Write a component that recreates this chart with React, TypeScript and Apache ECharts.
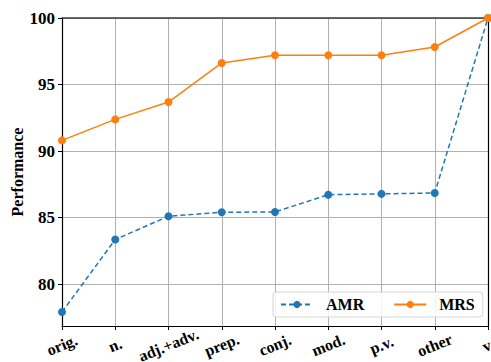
import React, { useEffect, useRef } from "react";
import * as echarts from "echarts";

const categories = ["orig.", "n.", "adj.+adv.", "prep.", "conj.", "mod.", "p.v.", "other", "v."];
const amrValues = [77.9, 83.35, 85.1, 85.4, 85.42, 86.72, 86.78, 86.85, 100];
const mrsValues = [90.8, 92.38, 93.68, 96.62, 97.2, 97.2, 97.2, 97.82, 100];
const yTicks = [80, 85, 90, 95, 100];

const FONT = "'Liberation Serif', 'Times New Roman', serif";

export default function App() {
  const ref = useRef<HTMLDivElement>(null);
  useEffect(() => {
    if (!ref.current) return;
    const chart = echarts.init(ref.current, null, { renderer: "svg" });
    chart.setOption({
      animation: false,
      backgroundColor: "#ffffff",
      textStyle: { fontFamily: FONT },
      grid: {
        left: 62,
        top: 18,
        right: 3,
        bottom: 36,
        containLabel: false,
        outerBoundsMode: "none",
      },
      legend: {
        left: 273,
        top: 292,
        orient: "horizontal",
        itemWidth: 32,
        itemHeight: 9,
        itemGap: 29,
        padding: [4, 8, 4, 7],
        borderColor: "#d6d6d6",
        borderWidth: 1,
        borderRadius: 3,
        backgroundColor: "rgba(255,255,255,0.85)",
        textStyle: {
          fontFamily: FONT,
          fontWeight: "bold",
          fontSize: 16,
          lineHeight: 17,
          color: "#000",
          padding: [0, 0, 0, 8],
        },
        data: ["AMR", "MRS"],
      },
      xAxis: [
        {
          type: "category",
          data: categories,
          boundaryGap: false,
          axisLine: { show: true, lineStyle: { color: "#000", width: 1.2 } },
          axisTick: { show: true, alignWithLabel: true, length: 4, lineStyle: { color: "#000" } },
          axisLabel: {
            rotate: 22,
            interval: 0,
            align: "center",
            margin: 19,
            fontFamily: FONT,
            fontWeight: "bold",
            fontSize: 16,
            color: "#000",
          },
          splitLine: { show: true, lineStyle: { color: "#b0b0b0", width: 1 } },
        },
        {
          type: "category",
          data: categories,
          position: "top",
          boundaryGap: false,
          axisLine: { show: true, lineStyle: { color: "#3a3a3a", width: 1.5 } },
          axisTick: { show: false },
          axisLabel: { show: false },
          splitLine: { show: false },
        },
      ],
      yAxis: [
        {
          type: "value",
          min: 76.85,
          max: 100,
          name: "Performance",
          nameLocation: "middle",
          nameGap: 37,
          nameMoveOverlap: false,
          nameTextStyle: { fontFamily: FONT, fontWeight: "bold", fontSize: 16, color: "#000" },
          axisLine: { show: true, lineStyle: { color: "#000", width: 1.2 } },
          axisTick: { show: true, length: 4, customValues: yTicks, lineStyle: { color: "#000" } },
          axisLabel: {
            customValues: yTicks,
            fontFamily: FONT,
            fontWeight: "bold",
            fontSize: 17,
            color: "#000",
            margin: 7,
          },
          splitLine: { show: true, lineStyle: { color: "#b0b0b0", width: 1 } },
        },
        {
          type: "value",
          min: 76.85,
          max: 100,
          position: "right",
          axisLine: { show: true, lineStyle: { color: "#000", width: 1.2 } },
          axisTick: { show: false },
          axisLabel: { show: false },
          splitLine: { show: false },
        },
      ],
      series: [
        {
          name: "AMR",
          type: "line",
          data: amrValues,
          symbol: "circle",
          symbolSize: 8,
          color: "#1f77b4",
          lineStyle: { color: "#1f77b4", width: 1.5, type: [5, 3] },
          itemStyle: { color: "#1f77b4" },
          z: 3,
        },
        {
          name: "MRS",
          type: "line",
          data: mrsValues,
          symbol: "circle",
          symbolSize: 8,
          color: "#ff7f0e",
          lineStyle: { color: "#ff7f0e", width: 1.5 },
          itemStyle: { color: "#ff7f0e" },
          z: 4,
        },
      ],
    });
    return () => chart.dispose();
  }, []);
  return <div ref={ref} style={{ width: 491, height: 362, position: "absolute", left: 0, top: 0 }} />;
}
